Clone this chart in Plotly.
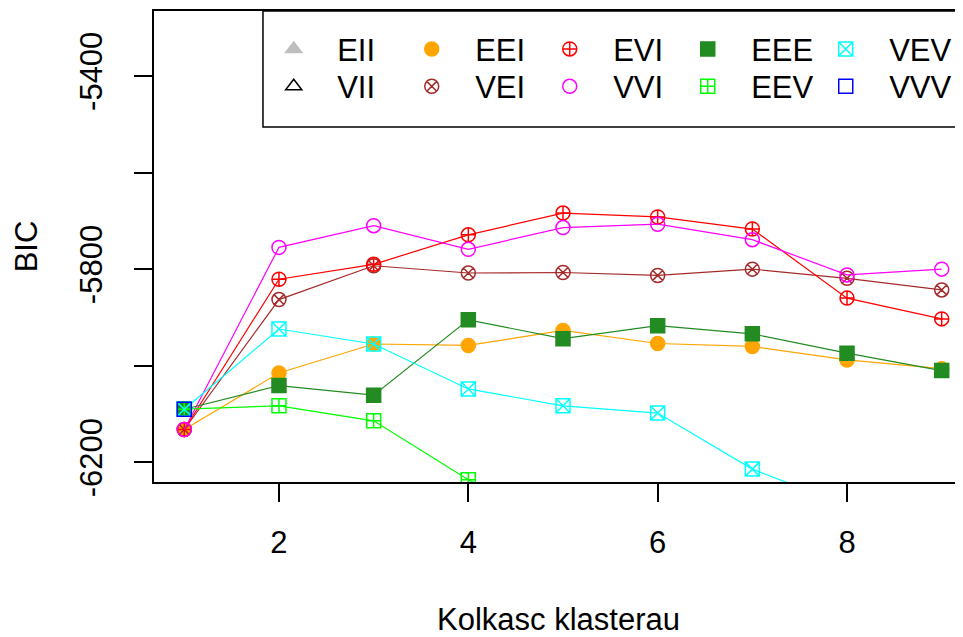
import plotly.graph_objects as go

clusters = [1, 2, 3, 4, 5, 6, 7, 8, 9]

# BIC values (values below the lower limit are off-scale estimates)
bic_EII = [-6480, -6420, -6395, -6370, -6360, -6350, -6345, -6340, -6335]
bic_VII = [-6480, -6400, -6370, -6340, -6330, -6320, -6315, -6310, -6305]
bic_EEI = [-6132, -6015, -5955, -5958, -5927, -5954, -5960, -5988, -6006]
bic_VEI = [-6132, -5863, -5793, -5808, -5807, -5813, -5800, -5819, -5843]
bic_EVI = [-6132, -5821, -5790, -5729, -5684, -5692, -5717, -5860, -5903]
bic_VVI = [-6132, -5755, -5710, -5759, -5714, -5707, -5739, -5812, -5800]
bic_EEE = [-6090, -6041, -6061, -5905, -5944, -5917, -5934, -5974, -6010]
bic_EEV = [-6090, -6083, -6114, -6236, -6330, -6360, -6400, -6420, -6450]
bic_VEV = [-6090, -5924, -5955, -6048, -6083, -6098, -6214, -6290, -6350]
bic_VVV = [-6090, None, None, None, None, None, None, None, None]

models = [
    # name, values, colour, symbol, legend row
    ('EII', bic_EII, '#BEBEBE', 'triangle-up', 'legend'),
    ('VII', bic_VII, 'black', 'triangle-up-open', 'legend2'),
    ('EEI', bic_EEI, '#FFA500', 'circle', 'legend'),
    ('VEI', bic_VEI, '#A52A2A', 'circle-x-open', 'legend2'),
    ('EVI', bic_EVI, '#FF0000', 'circle-cross-open', 'legend'),
    ('VVI', bic_VVI, '#FF00FF', 'circle-open', 'legend2'),
    ('EEE', bic_EEE, '#228B22', 'square', 'legend'),
    ('EEV', bic_EEV, '#00FF00', 'square-cross-open', 'legend2'),
    ('VEV', bic_VEV, '#00FFFF', 'square-x-open', 'legend'),
    ('VVV', bic_VVV, '#0000FF', 'square-open', 'legend2'),
]

font = 'Liberation Sans, Arial, sans-serif'
pad = '\u00a0\u00a0\u2009'

fig = go.Figure()
for name, vals, col, sym, leg in models:
    fig.add_trace(go.Scatter(
        x=clusters, y=vals, mode='lines', showlegend=False,
        line=dict(color=col, width=1.2), hoverinfo='skip',
    ))
    fig.add_trace(go.Scatter(
        x=clusters, y=vals, name=pad + name, mode='markers', legend=leg,
        marker=dict(symbol=sym, color=col, size=14, line=dict(color=col, width=1.5)),
    ))

fig.update_xaxes(
    range=[0.68, 9.225], tickvals=[2, 4, 6, 8],
    showgrid=False, zeroline=False,
    showline=True, linecolor='black', linewidth=1.5, mirror=True,
    ticks='outside', ticklen=18, tickwidth=1.5, tickcolor='black',
    ticklabelstandoff=14,
    tickfont=dict(size=31, color='black'),
    title=dict(text='Kolkasc klasterau', font=dict(size=31, color='black'), standoff=50),
)
fig.update_yaxes(
    range=[-6240.7, -5265.6],
    tickvals=[-6200, -6000, -5800, -5600, -5400],
    ticktext=['-6200', '', '-5800', '', '-5400'],
    tickangle=-90,
    showgrid=False, zeroline=False,
    showline=True, linecolor='black', linewidth=1.5,
    ticks='outside', ticklen=18, tickwidth=1.5, tickcolor='black',
    ticklabelstandoff=20,
    tickfont=dict(size=31, color='black'),
    title=dict(text='BIC', font=dict(size=31, color='black'), standoff=27),
)

legend_common = dict(
    orientation='h', xanchor='left', yanchor='middle',
    bgcolor='rgba(0,0,0,0)', borderwidth=0,
    entrywidth=93, entrywidthmode='pixels',
    font=dict(size=31, color='black'),
)

fig.update_layout(
    width=955, height=629,
    margin=dict(l=146, r=0, t=3, b=155, autoexpand=False),
    paper_bgcolor='white', plot_bgcolor='white',
    font=dict(family=font, size=31, color='black'),
    showlegend=True,
    legend=dict(x=0.148, y=0.9187, **legend_common),
    legend2=dict(x=0.148, y=0.8393, **legend_common),
    shapes=[dict(
        type='rect', xref='paper', yref='paper',
        x0=0.1347, x1=1.05, y0=0.7537, y1=1,
        line=dict(color='black', width=1.5), fillcolor='white', layer='above',
    )],
)

fig.write_html('out.html')
